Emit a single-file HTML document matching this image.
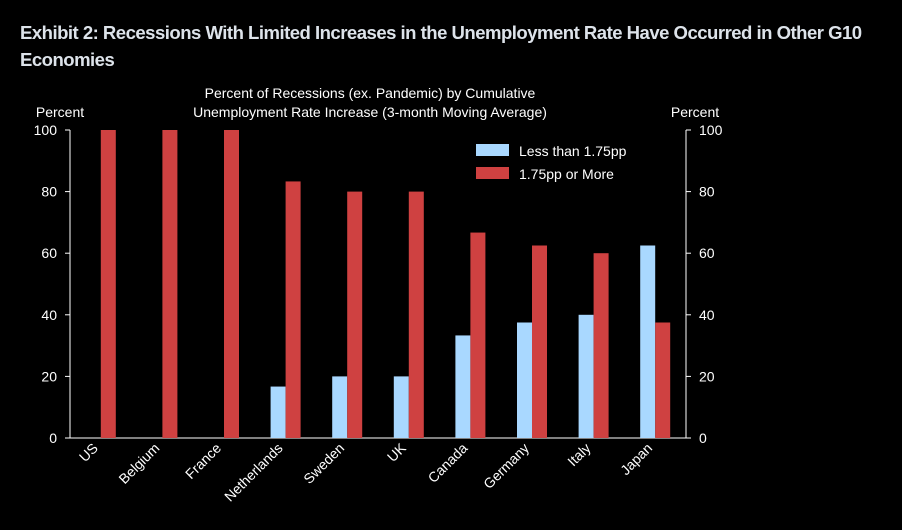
<!DOCTYPE html>
<html><head><meta charset="utf-8"><style>
body{margin:0;background:#000;width:902px;height:530px;overflow:hidden;font-family:"Liberation Sans",sans-serif}
#title{position:absolute;left:20px;top:20px;color:#dde3ea;font-weight:bold;font-size:18px;line-height:27px;letter-spacing:-0.5px;transform:scaleX(1.03);transform-origin:left top;width:960px}
svg{position:absolute;left:0;top:0}
text{font-family:"Liberation Sans",sans-serif;fill:#fff}
</style></head><body>
<div id="title">Exhibit 2: Recessions With Limited Increases in the Unemployment Rate Have Occurred in Other G10<br>Economies</div>
<svg id="chart" width="902" height="530"></svg>
<script>
const categories=["US","Belgium","France","Netherlands","Sweden","UK","Canada","Germany","Italy","Japan"];
const lessThan=[0,0,0,16.7,20,20,33.3,37.5,40,62.5];
const orMore=[100,100,100,83.3,80,80,66.7,62.5,60,37.5];
const ticks=[0,20,40,60,80,100];
const svg=document.getElementById('chart');
const NS='http://www.w3.org/2000/svg';
const L=70,R=686,T=130,B=438;
const y=v=>B-(v/100)*(B-T);
const band=(R-L)/categories.length;
const cx=i=>L+band*(i+0.5);
function mk(tag,attrs,txt){const e=document.createElementNS(NS,tag);for(const k in attrs)e.setAttribute(k,attrs[k]);if(txt!==undefined)e.textContent=txt;svg.appendChild(e);return e;}
let e;
e=mk('line',{x1:L,y1:T,x2:L,y2:B,stroke:'#fff','stroke-width':1});


e=mk('line',{x1:R,y1:T,x2:R,y2:B,stroke:'#fff','stroke-width':1});


e=mk('line',{x1:L,y1:B,x2:R,y2:B,stroke:'#fff','stroke-width':1});


ticks.forEach(t=>{
  mk('line',{x1:L-5,y1:y(t),x2:L,y2:y(t),stroke:'#fff'});
  mk('line',{x1:R,y1:y(t),x2:R+5,y2:y(t),stroke:'#fff'});
  e=mk('text',{x:L-13,y:y(t)+5,'text-anchor':'end','font-size':14},t);
  
  
  e=mk('text',{x:R+13,y:y(t)+5,'text-anchor':'start','font-size':14},t);
  
  
});
categories.forEach((c,i)=>{
  const x=cx(i);
  e=mk('rect',{x:x-15,y:y(lessThan[i]),width:15,height:B-y(lessThan[i]),fill:'#a9d8ff'});
  
  
  e=mk('rect',{x:x,y:y(orMore[i]),width:15,height:B-y(orMore[i]),fill:'#cf4141'});
  
  
  e=mk('text',{x:x-2,y:B+11,'text-anchor':'end','font-size':14,transform:`rotate(-45 ${x-2} ${B+11})`},c);
  
  
});
e=mk('text',{x:60,y:117,'text-anchor':'middle','font-size':14},'Percent');


e=mk('text',{x:695,y:117,'text-anchor':'middle','font-size':14},'Percent');


e=mk('text',{x:370,y:98,'text-anchor':'middle','font-size':14},'Percent of Recessions (ex. Pandemic) by Cumulative');


e=mk('text',{x:370,y:117,'text-anchor':'middle','font-size':14},'Unemployment Rate Increase (3-month Moving Average)');


e=mk('rect',{x:476,y:144,width:33,height:12,fill:'#a9d8ff'});


e=mk('text',{x:519,y:156,'font-size':14},'Less than 1.75pp');


e=mk('rect',{x:476,y:167,width:33,height:12,fill:'#cf4141'});


e=mk('text',{x:519,y:179,'font-size':14},'1.75pp or More');


</script>
</body></html>
